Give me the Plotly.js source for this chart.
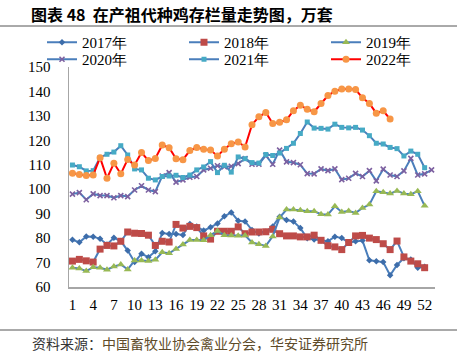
<!DOCTYPE html>
<html><head><meta charset="utf-8">
<script src="https://cdn.plot.ly/plotly-3.0.1.min.js"></script>
<style>html,body{margin:0;padding:0;background:#fff;}#chart{width:468px;height:362px;}</style>
</head><body><div id="chart"></div>
<script>
const weeks = [1,2,3,4,5,6,7,8,9,10,11,12,13,14,15,16,17,18,19,20,21,22,23,24,25,26,27,28,29,30,31,32,33,34,35,36,37,38,39,40,41,42,43,44,45,46,47,48,49,50,51,52,53];
const tickWeeks = [1,4,7,10,13,16,19,22,25,28,31,34,37,40,43,46,49,52];
const seriesNames = ['2017年','2018年','2019年','2020年','2021年','2022年'];
const y2017 = [79.3,78.3,80.7,80.6,79.7,77.4,80.1,78.8,74.9,70.2,73.6,72.2,74.6,82.1,81.7,81.7,81.3,85.8,84.7,83.1,84.4,86.0,88.9,90.5,87.1,86.8,83.3,81.9,82.6,84.8,88.7,87.4,86.8,84.1,79.9,79.4,79.0,78.7,80.6,80.0,78.2,78.7,79.0,70.9,70.5,70.2,64.8,69.0,71.8,71.3,67.9,68.3];
const y2018 = [70.6,71.3,70.7,70.2,75.5,77.0,76.8,78.7,82.5,82.0,81.9,81.2,77.0,78.7,78.4,85.6,84.1,84.8,84.3,80.9,79.6,82.8,82.8,82.8,84.6,81.8,82.5,82.5,82.6,83.6,81.8,80.9,80.9,80.5,80.5,81.2,79.1,76.9,76.4,75.3,78.2,80.9,81.1,80.0,79.4,77.7,75.3,78.8,72.3,70.6,69.5,67.9];
const y2019 = [67.9,67.6,66.5,68.1,67.9,67.1,68.4,69.2,67.2,70.8,70.8,70.6,71.1,74.2,73.8,75.5,77.4,79.2,79.2,79.1,81.2,82.9,81.2,81.1,81.0,81.1,78.2,77.5,76.8,80.7,88.4,91.7,91.7,91.4,91.0,91.0,89.8,89.7,93.0,90.7,91.1,90.3,92.3,93.7,99.2,98.8,98.2,99.3,98.2,97.9,99.2,93.2];
const y2020 = [98.0,98.6,95.7,98.1,97.4,97.4,96.5,97.4,97.0,99.7,101.4,99.7,99.0,105.4,106.8,102.9,103.8,104.9,105.2,107.9,108.6,109.6,109.2,109.4,110.5,112.5,110.2,110.2,113.8,110.2,116.0,111.2,110.9,110.0,106.4,106.3,108.3,107.6,108.3,103.9,104.5,106.5,105.2,107.6,103.4,108.2,105.8,105.2,107.5,112.6,105.8,106.3,107.9];
const y2021 = [109.9,109.2,107.5,107.6,113.0,114.3,115.2,117.8,114.0,108.3,107.9,104.5,103.8,105.2,105.4,105.7,104.8,105.8,107.9,109.1,111.3,106.8,109.8,107.0,113.2,112.5,110.9,110.7,114.2,113.8,114.8,116.7,118.8,122.8,127.5,125.0,124.9,124.6,126.6,125.3,125.1,125.3,124.2,121.9,118.8,118.5,117.1,116.6,113.6,115.6,114.3,108.8];
const y2022 = [106.5,106.0,105.6,105.8,112.9,104.5,110.6,106.3,112.2,109.9,115.0,111.7,112.6,118.1,117.0,112.5,112.1,115.8,117.1,116.4,116.0,113.6,116.4,118.6,119.3,117.3,126.4,129.6,131.4,126.9,127.4,128.4,132.1,134.4,132.7,131.7,135.1,138.3,140.1,141.0,141.0,140.8,137.4,135.1,131.1,132.1,128.7];

const lineBlue = '#4A7EBB';
function mk(name, ys, lineColor, sym, size, mcol, leg) {
  return {type:'scatter', mode:'lines+markers', name:name, legend:leg,
    x: weeks.slice(0, ys.length), y: ys,
    line:{color:lineColor, width:2},
    marker:{symbol:sym, size:size, color:mcol, line:{width: sym==='x-thin'?1.6:0, color:mcol}}};
}
const traces = [
  mk(seriesNames[0], y2017, lineBlue, 'diamond', 5, '#3D6DAA', 'legend'),
  mk(seriesNames[1], y2018, lineBlue, 'square', 7, '#BE4B48', 'legend'),
  mk(seriesNames[2], y2019, lineBlue, 'triangle-up', 7, '#98B954', 'legend'),
  mk(seriesNames[3], y2020, lineBlue, 'x-thin', 5, '#7D60A0', 'legend2'),
  mk(seriesNames[4], y2021, lineBlue, 'square', 5, '#46AAC5', 'legend2'),
  mk(seriesNames[5], y2022, '#FF0000', 'circle', 7, '#F79646', 'legend2')
];
const serif = 'Liberation Serif, Times New Roman, serif';
const legBase = {orientation:'h', xanchor:'left', yanchor:'top', x:-0.035,
  entrywidth:97, entrywidthmode:'pixels', font:{family:serif, size:15, color:'#000'},
  itemwidth:30, bgcolor:'rgba(0,0,0,0)'};
const layout = {
  width:468, height:362,
  margin:{l:69, r:33, t:67, b:75},
  paper_bgcolor:'#fff', plot_bgcolor:'#fff',
  showlegend:true,
  legend:Object.assign({}, legBase, {y:(287-26)/220}),
  legend2:Object.assign({}, legBase, {y:(287-43)/220}),
  xaxis:{range:[0.5,53.5], tickmode:'array', tickvals:tickWeeks, ticktext:tickWeeks.map(String),
    showgrid:false, zeroline:false, showline:true, linecolor:'#A6A6A6', linewidth:1.5,
    ticks:'', ticklabelstandoff:3, tickfont:{family:serif, size:15, color:'#000'}},
  yaxis:{range:[60,150], dtick:10, tick0:60, showgrid:false, zeroline:false, showline:true,
    linecolor:'#A6A6A6', linewidth:1.5, ticks:'', ticklabelstandoff:14,
    tickfont:{family:serif, size:15, color:'#000'}},
  title:{text:'<b>图表 48  在产祖代种鸡存栏量走势图，万套</b>', x:31/468, xanchor:'left', xref:'container',
    y:1-15/362, yanchor:'middle', yref:'container',
    font:{family:'Noto Sans CJK SC, sans-serif', size:16, color:'#000'}},
  shapes:[
    {type:'line', xref:'paper', yref:'paper', x0:-69/366, x1:(457-69)/366, y0:(287-26)/220, y1:(287-26)/220, line:{color:'#555', width:1}},
    {type:'line', xref:'paper', yref:'paper', x0:-69/366, x1:(457-69)/366, y0:(287-330)/220, y1:(287-330)/220, line:{color:'#555', width:1}}
  ],
  annotations:[
    {xref:'paper', yref:'paper', x:(30-69)/366, xanchor:'left', y:(287-343)/220, yanchor:'middle', showarrow:false,
     text:'资料来源：<span style="color:#5E4B2A">中国畜牧业协会禽业分会，华安证券研究所</span>',
     font:{family:'Noto Sans CJK SC, sans-serif', size:14, color:'#333'}}
  ]
};
Plotly.newPlot('chart', traces, layout, {displayModeBar:false, staticPlot:true});
</script></body></html>
